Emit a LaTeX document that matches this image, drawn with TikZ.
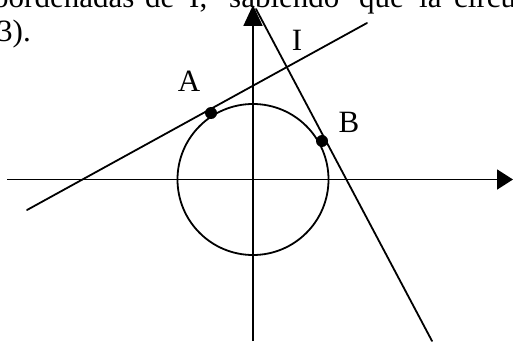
\documentclass[tikz,border=0pt]{standalone}
\usepackage{fontspec}
\setmainfont{Liberation Serif}
\usetikzlibrary{arrows.meta}
\begin{document}
\begin{tikzpicture}[x=1pt,y=-1pt,
  ln/.style={line width=1.8pt, line cap=round},
  axis/.style={line width=1.8pt},
  txt/.style={inner sep=0pt, anchor=base west, font=\fontsize{31}{37}\selectfont},
  lbl/.style={inner sep=0pt, anchor=base, font=\fontsize{31}{37}\selectfont},
  dot/.style={circle, fill=black, inner sep=0pt, minimum size=12pt}]
\clip (0,0) rectangle (513,342);
% text (cut by the frame)
\node[txt] (w1) at (-7,7.5) {oordenadas};
\node[txt] (w2) at (145,7.5) {de};
\node[txt] (w3) at (189,7.5) {I,};
\node[txt] (w4) at (229,7.5) {sabiendo};
\node[txt] (w5) at (359,7.5) {que};
\node[txt] (w6) at (419,7.5) {la};
\node[txt] (w7) at (454,7.5) {circu};
\node[txt] (w8) at (-3,42) {3).};
% geometry
\coordinate (O) at (253,179.5);
\coordinate (xs) at (7,179.5);
\coordinate (xe) at (513,179.5);
\coordinate (ys) at (253,341);
\coordinate (ye) at (253,5);
\coordinate (a1) at (27,210);
\coordinate (a2) at (367,23);
\coordinate (b1) at (256,9);
\coordinate (b2) at (432,341);
\draw[axis,-{Triangle[length=16pt,width=20pt]}] (xs) -- (xe);
\draw[axis,-{Triangle[length=21pt,width=19pt]}] (ys) -- (ye);
\draw[ln] (O) circle[radius=75.5pt];
\draw[ln] (a1) -- (a2);
\draw[ln] (b1) -- (b2);
\node[dot] (A) at (211,113) {};
\node[dot] (B) at (322,141) {};
\node[lbl] (LA) at (189,92) {A};
\node[lbl] (LB) at (349,132) {B};
\node[lbl] (LI) at (297,51) {I};
\end{tikzpicture}
\end{document}
